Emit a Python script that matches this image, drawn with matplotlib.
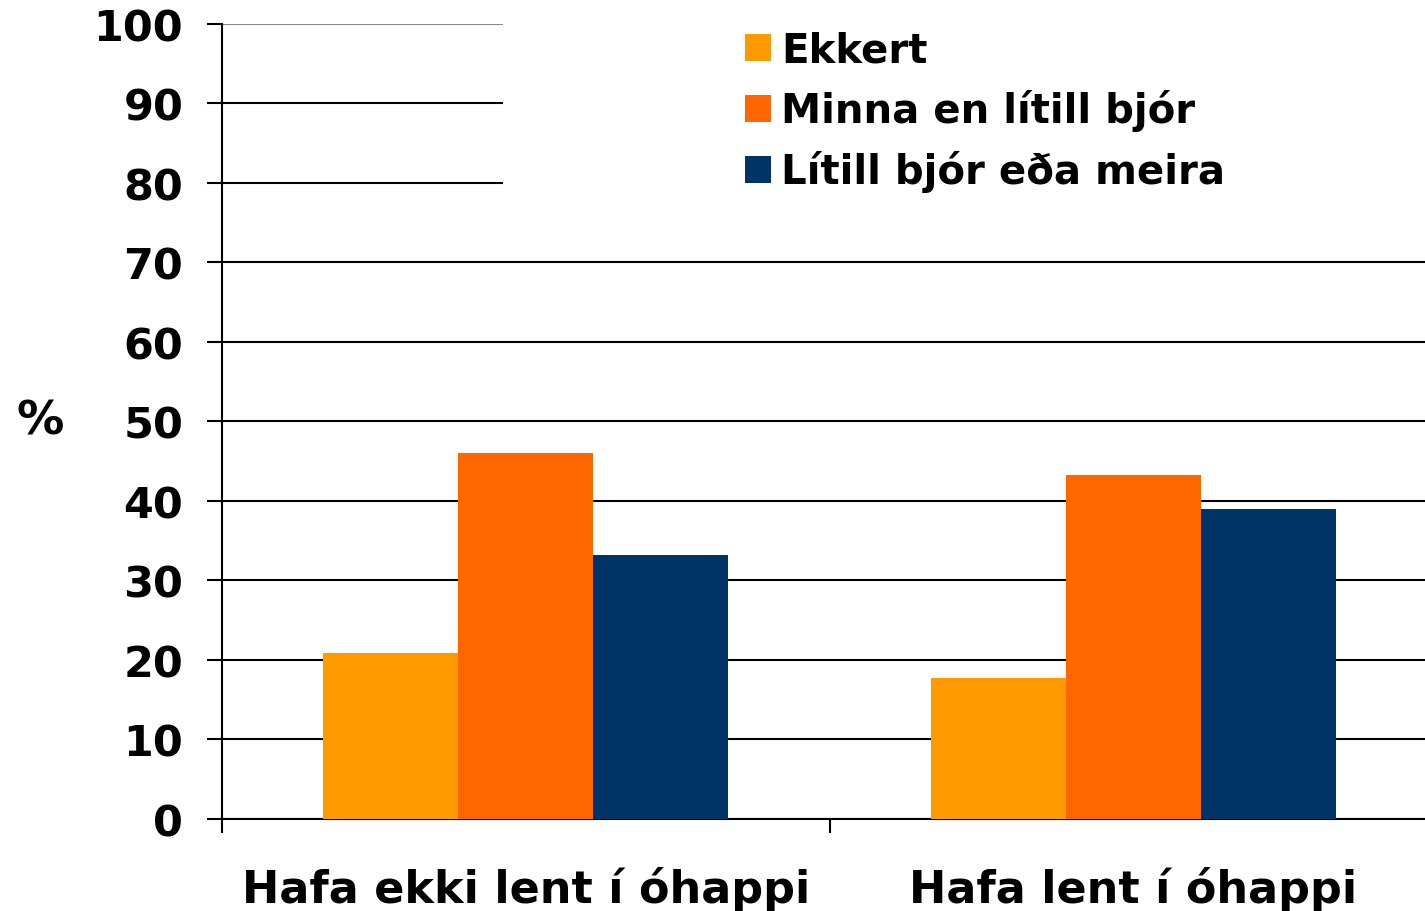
import matplotlib
matplotlib.use('Agg')
import matplotlib.pyplot as plt
import numpy as np
from matplotlib.patches import Rectangle

plt.rcParams['font.family'] = ['DejaVu Sans']
plt.rcParams['font.weight'] = 'bold'

# data
categories = ['Hafa ekki lent í óhappi', 'Hafa lent í óhappi']
series = ['Ekkert', 'Minna en lítill bjór', 'Lítill bjór eða meira']
ekkert = [20.9, 17.7]
minna = [46.0, 43.3]
litill = [33.2, 39.0]
colors = ['#FF9900', '#FF6600', '#003366']

fig = plt.figure(figsize=(14.25, 9.12), dpi=100)
ax = fig.add_axes([0.1558, 0.1009, 0.8442, 0.8717])

x = np.arange(len(categories))
w = 0.222
for i, (vals, name) in enumerate(zip([ekkert, minna, litill], series)):
    ax.bar(x + (i - 1) * w, vals, w, color=colors[i], label=name, zorder=3)

ax.set_xlim(-0.5, 1.48)
ax.set_ylim(0, 100)
ax.set_yticks(range(0, 101, 10))
ax.yaxis.grid(True, color='black', linewidth=1.5, zorder=0)
ax.set_axisbelow(True)
ax.get_ygridlines()[-1].set_color('#888888')

# white box behind the legend hides the upper gridlines
ax.add_patch(Rectangle((0.2336, 0.76), 0.8, 0.3, transform=ax.transAxes,
                       facecolor='white', edgecolor='none', zorder=1, clip_on=False))

for s in ['top', 'right']:
    ax.spines[s].set_visible(False)
for s in ['left', 'bottom']:
    ax.spines[s].set_linewidth(1.5)

ax.set_xticks([-0.5, 0.5])
ax.set_xticklabels([])
ax.tick_params(axis='x', length=10, width=1.5, direction='out')
ax.tick_params(axis='y', length=11, width=1.5, labelsize=31, pad=17)
for i, c in enumerate(categories):
    ax.text(x[i], -10.4, c, ha='center', va='baseline', fontsize=32, fontweight='bold')

ax.text(-0.151, 0.5, '%', transform=ax.transAxes, fontsize=34, fontweight='bold',
        ha='center', va='center')

ax.legend(loc='upper left', bbox_to_anchor=(0.4347, 0.992), frameon=False,
          fontsize=29, handlelength=0.65, handleheight=0.65, handletextpad=0.25,
          labelspacing=0.47, borderaxespad=0, borderpad=0)

fig.savefig('out.png', dpi=100)
